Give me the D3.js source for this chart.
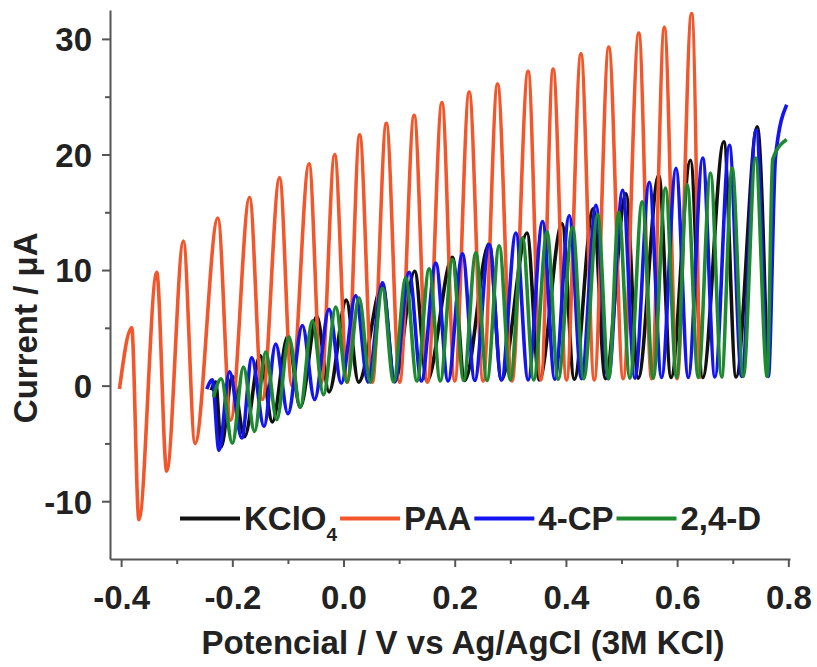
<!DOCTYPE html>
<html>
<head>
<meta charset="utf-8">
<script src="https://cdn.jsdelivr.net/npm/d3@7"></script>
<style>
  body { margin: 0; background: #fff; }
  text { font-family: "Liberation Sans", Arial, sans-serif; font-weight: bold; fill: #222; }
</style>
</head>
<body>
<svg id="chart" width="817" height="667"></svg>
<script>
// Axis ticks
const xTicks = [-0.4, -0.2, 0.0, 0.2, 0.4, 0.6, 0.8];
const xMinorTicks = [-0.3, -0.1, 0.1, 0.3, 0.5, 0.7];
const yTicks = [-10, 0, 10, 20, 30];
const yMinorTicks = [-5, 5, 15, 25];

// Series: [potential (V), current (µA)]
const kclo4 = [
  [-0.238, -0.4], [-0.230, 0.3], [-0.220, -5.3], [-0.200, 0.8], [-0.178, -4.42],
  [-0.150, 2.6], [-0.128, -3.15], [-0.100, 4.3], [-0.078, -1.87], [-0.048, 6.0],
  [-0.026, -0.54], [0.005, 7.4], [0.027, 0.3], [0.070, 8.7], [0.092, 0.35],
  [0.128, 9.9], [0.150, 0.4], [0.196, 11.1], [0.218, 0.45], [0.262, 12.3],
  [0.284, 0.5], [0.330, 13.2], [0.352, 0.5], [0.393, 14.0], [0.415, 0.55],
  [0.449, 15.3], [0.471, 0.6], [0.508, 16.6], [0.530, 0.65], [0.567, 18.2],
  [0.589, 0.7], [0.624, 19.5], [0.646, 0.7], [0.684, 21.1], [0.706, 0.75],
  [0.744, 22.4], [0.762, 0.8]
];

const paa = [
  [-0.403, -0.3], [-0.381, 5.0], [-0.368, -11.6], [-0.336, 9.8], [-0.318, -7.4],
  [-0.288, 12.5], [-0.267, -5.0], [-0.226, 14.5], [-0.203, -3.0], [-0.169, 16.3],
  [-0.146, -1.2], [-0.115, 18.0], [-0.093, 0.0], [-0.062, 19.2], [-0.040, 0.2],
  [-0.016, 20.0], [0.007, 0.3], [0.029, 21.7], [0.052, 0.3], [0.077, 22.7],
  [0.101, 0.3], [0.127, 23.4], [0.151, 0.3], [0.177, 24.5], [0.200, 0.4],
  [0.226, 25.4], [0.251, 0.4], [0.277, 26.1], [0.303, 0.4], [0.332, 27.2],
  [0.355, 0.5], [0.377, 27.4], [0.401, 0.5], [0.427, 28.7], [0.451, 0.5],
  [0.477, 29.3], [0.503, 0.6], [0.531, 30.5], [0.554, 0.6], [0.577, 31.0],
  [0.600, 0.6], [0.626, 32.2], [0.640, 0.6]
];

const cp4 = [
  [-0.246, -0.3], [-0.236, 0.5], [-0.224, -5.6], [-0.205, 1.2], [-0.183, -4.53],
  [-0.165, 2.4], [-0.143, -3.53], [-0.122, 3.6], [-0.100, -2.43], [-0.074, 5.2],
  [-0.052, -1.2], [-0.026, 6.6], [-0.004, 0.2], [0.022, 7.8], [0.044, 0.3],
  [0.070, 8.9], [0.092, 0.35], [0.118, 9.8], [0.140, 0.4], [0.166, 10.6],
  [0.188, 0.4], [0.214, 11.4], [0.236, 0.45], [0.262, 12.2], [0.284, 0.5],
  [0.310, 13.2], [0.332, 0.5], [0.358, 14.2], [0.380, 0.55], [0.406, 14.7],
  [0.428, 0.6], [0.454, 15.6], [0.476, 0.6], [0.502, 16.9], [0.524, 0.65],
  [0.550, 17.6], [0.572, 0.7], [0.598, 18.8], [0.620, 0.7], [0.646, 19.7],
  [0.668, 0.75], [0.694, 20.8], [0.716, 0.8], [0.742, 22.1], [0.764, 0.8],
  [0.777, 19.8], [0.797, 24.3]
];

const d24 = [
  [-0.234, -1.0], [-0.220, 0.6], [-0.200, -4.99], [-0.180, 1.6], [-0.160, -3.96],
  [-0.140, 2.9], [-0.120, -2.94], [-0.098, 4.2], [-0.078, -1.87], [-0.056, 5.6],
  [-0.036, -0.79], [-0.014, 6.8], [0.006, 0.3], [0.028, 7.6], [0.048, 0.3],
  [0.070, 8.4], [0.090, 0.35], [0.112, 9.3], [0.132, 0.4], [0.154, 10.1],
  [0.174, 0.4], [0.196, 10.9], [0.216, 0.45], [0.238, 11.5], [0.258, 0.45],
  [0.280, 12.1], [0.300, 0.5], [0.322, 12.8], [0.342, 0.5], [0.366, 13.3],
  [0.386, 0.55], [0.412, 13.7], [0.432, 0.6], [0.457, 14.8], [0.477, 0.6],
  [0.495, 15.0], [0.515, 0.65], [0.537, 15.9], [0.557, 0.65], [0.579, 17.1],
  [0.599, 0.7], [0.618, 17.4], [0.638, 0.7], [0.660, 18.4], [0.680, 0.75],
  [0.699, 18.8], [0.719, 0.8], [0.741, 19.7], [0.762, 0.8], [0.772, 19.6],
  [0.797, 21.3]
];

const seriesNames = ["KClO4", "PAA", "4-CP", "2,4-D"];
const seriesData = [kclo4, paa, cp4, d24];
const seriesColors = ["#111111", "#f2562a", "#1414f0", "#1d8a30"];

const svg = d3.select("#chart");
const x = d3.scaleLinear().domain([-0.42, 0.803]).range([110, 790]);
const y = d3.scaleLinear().domain([-15, 32.5]).range([559, 10]);

// Curves
const line = d3.line()
  .x(d => x(d[0]))
  .y(d => y(d[1]))
  .curve(d3.curveMonotoneX);

svg.append("g").selectAll("path")
  .data(seriesData)
  .join("path")
  .attr("d", d => line(d))
  .attr("fill", "none")
  .attr("stroke", (d, i) => seriesColors[i])
  .attr("stroke-width", 3.6)
  .attr("stroke-linejoin", "round");

// Axes
const axisColor = "#555";
const fontSize = 33;

const xAxis = svg.append("g").attr("transform", `translate(0,${y(-15)})`)
  .call(d3.axisBottom(x).tickValues(xTicks).tickSize(8).tickSizeOuter(0)
    .tickFormat(d => d.toFixed(1)));
svg.append("g").attr("transform", `translate(0,${y(-15)})`)
  .call(d3.axisBottom(x).tickValues(xMinorTicks).tickSize(5).tickSizeOuter(0).tickFormat(""))
  .call(g => g.select(".domain").remove());

const yAxis = svg.append("g").attr("transform", `translate(${x(-0.42)},0)`)
  .call(d3.axisLeft(y).tickValues(yTicks).tickSize(8).tickSizeOuter(0)
    .tickFormat(d => String(d)));
svg.append("g").attr("transform", `translate(${x(-0.42)},0)`)
  .call(d3.axisLeft(y).tickValues(yMinorTicks).tickSize(5).tickSizeOuter(0).tickFormat(""))
  .call(g => g.select(".domain").remove());

svg.selectAll(".domain").attr("stroke", axisColor).attr("stroke-width", 2);
svg.selectAll(".tick line").attr("stroke", axisColor).attr("stroke-width", 2);
svg.selectAll(".tick text")
  .attr("font-family", null).attr("font-size", null)
  .style("font-size", fontSize + "px").attr("fill", "#222");
xAxis.selectAll(".tick text").attr("dy", null).attr("y", 50);
yAxis.selectAll(".tick text").attr("x", -18).attr("dy", "0.36em");

// Axis titles
svg.append("text")
  .attr("x", 463).attr("y", 654)
  .attr("text-anchor", "middle")
  .style("font-size", fontSize + "px")
  .text("Potencial / V vs Ag/AgCl (3M KCl)");

svg.append("text")
  .attr("transform", `translate(37,${y(5)}) rotate(-90)`)
  .attr("text-anchor", "middle")
  .style("font-size", fontSize + "px")
  .text("Current / μA");

// Legend
const legend = svg.append("g");
let lx = 180;
const ly = y(-11.5);
seriesNames.forEach((name, i) => {
  legend.append("line")
    .attr("x1", lx).attr("x2", lx + 60)
    .attr("y1", ly).attr("y2", ly)
    .attr("stroke", seriesColors[i]).attr("stroke-width", 4);
  const t = legend.append("text")
    .attr("x", lx + 64).attr("y", ly)
    .attr("dy", "0.36em")
    .style("font-size", fontSize + "px");
  if (name === "KClO4") {
    t.append("tspan").text("KClO");
    t.append("tspan").text("4").style("font-size", "19px").attr("dy", "0.55em");
  } else {
    t.text(name);
  }
  lx = lx + 64 + t.node().getComputedTextLength() + 3;
});
</script>
</body>
</html>
